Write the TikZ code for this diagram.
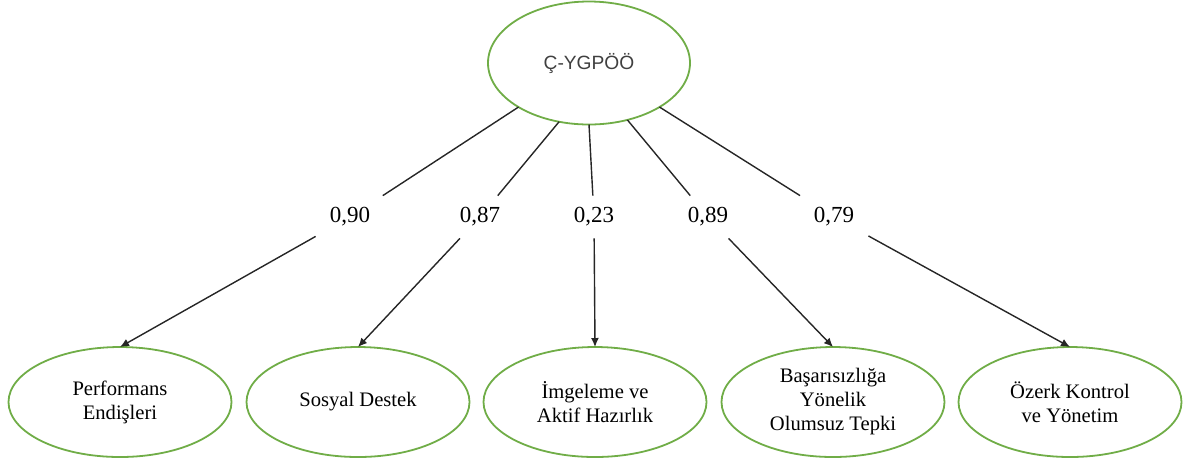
\documentclass[tikz,border=0pt]{standalone}
\usepackage{fontspec}
\setmainfont{Liberation Serif}
\newfontfamily\headfont{Liberation Sans}
\usetikzlibrary{shapes.geometric,arrows.meta}
\definecolor{ellgreen}{RGB}{112,173,71}
\definecolor{headgray}{RGB}{64,64,64}
\begin{document}
\begin{tikzpicture}[x=0.5pt,y=-0.5pt,
        latent/.style={ellipse, draw=ellgreen, line width=0.9pt, fill=white, inner sep=0pt, outer sep=0pt,
            minimum width=101pt, minimum height=61.5pt, text=headgray, font=\headfont\fontsize{9.6}{11}\selectfont},
        factor/.style={ellipse, draw=ellgreen, line width=0.9pt, fill=white, inner sep=0pt, outer sep=0pt,
            minimum width=111.5pt, minimum height=55pt, align=center, font=\fontsize{10.3}{12}\selectfont},
        weight/.style={inner sep=0pt, minimum width=34pt, minimum height=21pt, font=\fontsize{11.5}{13}\selectfont},
        link/.style={draw=black!85, line width=0.7pt},
        arr/.style={link, -{Latex[length=4.5pt,width=4pt]}}]
        \useasboundingbox (0,0) rectangle (1186,463);

        \node[latent] (cy) at (589,63) {Ç-YGPÖÖ};

        \node[weight] (w1) at (350,217) {0,90};
        \node[weight] (w2) at (480,217) {0,87};
        \node[weight] (w3) at (594,217) {0,23};
        \node[weight] (w4) at (708,217) {0,89};
        \node[weight] (w5) at (834,217) {0,79};

        \node[factor] (f1) at (120,402) {Performans\\Endişleri};
        \node[factor] (f2) at (358,402) {Sosyal Destek};
        \node[factor] (f3) at (595,402) {İmgeleme ve\\Aktif Hazırlık};
        \node[factor] (f4) at (833,402) {Başarısızlığa\\Yönelik\\Olumsuz Tepki};
        \node[factor] (f5) at (1070,402) {Özerk Kontrol\\ve Yönetim};

        \draw[link] (cy.212) -- (w1);
        \draw[link] (cy.243) -- (w2);
        \draw[link] (cy.270) -- (w3);
        \draw[link] (cy.304) -- (w4);
        \draw[link] (cy.328) -- (w5);

        \draw[arr] (w1) -- (f1.north);
        \draw[arr] (w2) -- (f2.north);
        \draw[arr] (w3) -- (f3.north);
        \draw[arr] (w4) -- (f4.north);
        \draw[arr] (w5) -- (f5.north);
    \end{tikzpicture}
\end{document}
